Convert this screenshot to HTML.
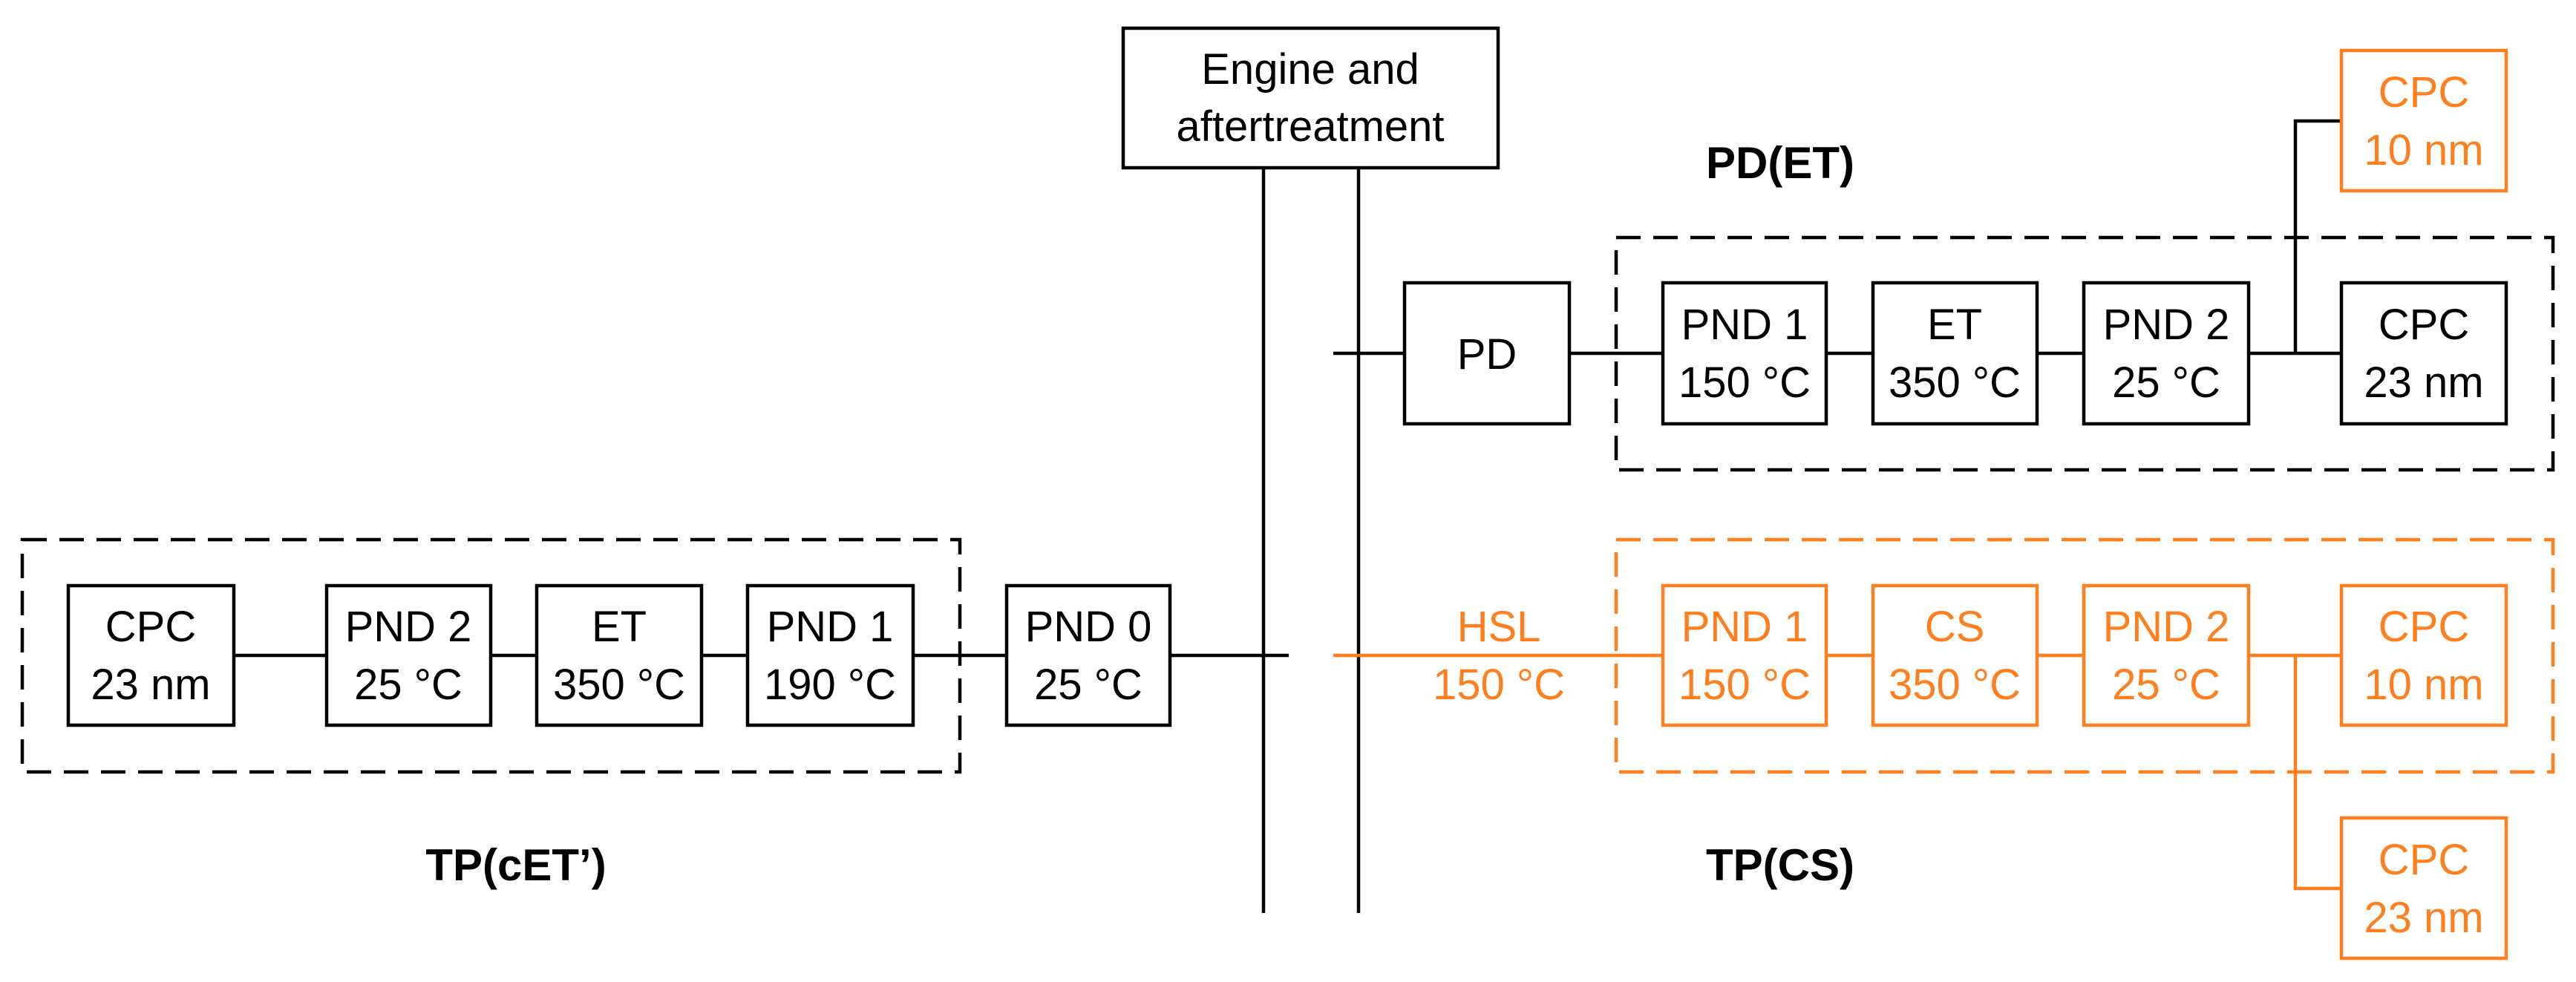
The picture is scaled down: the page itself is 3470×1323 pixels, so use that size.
<!DOCTYPE html>
<html><head><meta charset="utf-8"><style>html,body{margin:0;padding:0;background:#fff}svg{display:block}</style></head>
<body>
<svg xmlns="http://www.w3.org/2000/svg" width="3470" height="1323" viewBox="0 0 3470 1323" font-family="Liberation Sans, sans-serif" font-size="58" text-anchor="middle">
<g fill="none" stroke="#000" stroke-width="4.5">
  <!-- engine box and vertical lines -->
  <rect x="1513" y="38" width="505" height="188"/>
  <line x1="1702" y1="226" x2="1702" y2="1230"/>
  <line x1="1830" y1="226" x2="1830" y2="1230"/>
  <!-- left dashed -->
  <rect x="30" y="727" width="1263" height="313" stroke-dasharray="33 17"/>
  <rect x="92" y="789" width="223" height="188"/>
  <rect x="440" y="789" width="221" height="188"/>
  <rect x="723" y="789" width="222" height="188"/>
  <rect x="1007" y="789" width="223" height="188"/>
  <rect x="1356" y="789" width="220" height="188"/>
  <line x1="315" y1="883" x2="440" y2="883"/>
  <line x1="661" y1="883" x2="723" y2="883"/>
  <line x1="945" y1="883" x2="1007" y2="883"/>
  <line x1="1230" y1="883" x2="1356" y2="883"/>
  <line x1="1576" y1="883" x2="1736" y2="883"/>
  <!-- PD row -->
  <rect x="2177" y="320" width="1262" height="313" stroke-dasharray="33 17"/>
  <line x1="1796" y1="476" x2="1892" y2="476"/>
  <rect x="1892" y="381" width="222" height="190"/>
  <line x1="2114" y1="476" x2="2240" y2="476"/>
  <rect x="2240" y="381" width="220" height="190"/>
  <line x1="2460" y1="476" x2="2523" y2="476"/>
  <rect x="2523" y="381" width="221" height="190"/>
  <line x1="2744" y1="476" x2="2807" y2="476"/>
  <rect x="2807" y="381" width="222" height="190"/>
  <line x1="3029" y1="476" x2="3154" y2="476"/>
  <rect x="3154" y="381" width="222" height="190"/>
  <polyline points="3092,476 3092,163 3154,163"/>
</g>
<g fill="none" stroke="#ff7f1e" stroke-width="4.5">
  <rect x="2177" y="727" width="1262" height="313" stroke-dasharray="33 17"/>
  <line x1="1796" y1="883" x2="2240" y2="883"/>
  <rect x="2240" y="789" width="220" height="188"/>
  <line x1="2460" y1="883" x2="2523" y2="883"/>
  <rect x="2523" y="789" width="221" height="188"/>
  <line x1="2744" y1="883" x2="2807" y2="883"/>
  <rect x="2807" y="789" width="222" height="188"/>
  <line x1="3029" y1="883" x2="3154" y2="883"/>
  <rect x="3154" y="789" width="222" height="188"/>
  <polyline points="3092,883 3092,1197 3154,1197"/>
  <rect x="3154" y="1102" width="222" height="189"/>
  <rect x="3154" y="68" width="222" height="189"/>
</g>
<g fill="#000">
  <text x="1765" y="113">Engine and</text>
  <text x="1765" y="190">aftertreatment</text>
  <text x="203" y="864">CPC</text><text x="203" y="942">23 nm</text>
  <text x="550" y="864">PND 2</text><text x="550" y="942">25 °C</text>
  <text x="834" y="864">ET</text><text x="834" y="942">350 °C</text>
  <text x="1118" y="864">PND 1</text><text x="1118" y="942">190 °C</text>
  <text x="1466" y="864">PND 0</text><text x="1466" y="942">25 °C</text>
  <text x="2003" y="497">PD</text>
  <text x="2350" y="457">PND 1</text><text x="2350" y="535">150 °C</text>
  <text x="2633" y="457">ET</text><text x="2633" y="535">350 °C</text>
  <text x="2918" y="457">PND 2</text><text x="2918" y="535">25 °C</text>
  <text x="3265" y="457">CPC</text><text x="3265" y="535">23 nm</text>
  <g font-weight="bold" font-size="60">
    <text x="695" y="1186">TP(cET’)</text>
    <text x="2398" y="240">PD(ET)</text>
    <text x="2398" y="1186">TP(CS)</text>
  </g>
</g>
<g fill="#ff7f1e">
  <text x="2019" y="864">HSL</text><text x="2019" y="942">150 °C</text>
  <text x="2350" y="864">PND 1</text><text x="2350" y="942">150 °C</text>
  <text x="2633" y="864">CS</text><text x="2633" y="942">350 °C</text>
  <text x="2918" y="864">PND 2</text><text x="2918" y="942">25 °C</text>
  <text x="3265" y="864">CPC</text><text x="3265" y="942">10 nm</text>
  <text x="3265" y="144">CPC</text><text x="3265" y="222">10 nm</text>
  <text x="3265" y="1178">CPC</text><text x="3265" y="1256">23 nm</text>
</g>
</svg>
</body></html>
